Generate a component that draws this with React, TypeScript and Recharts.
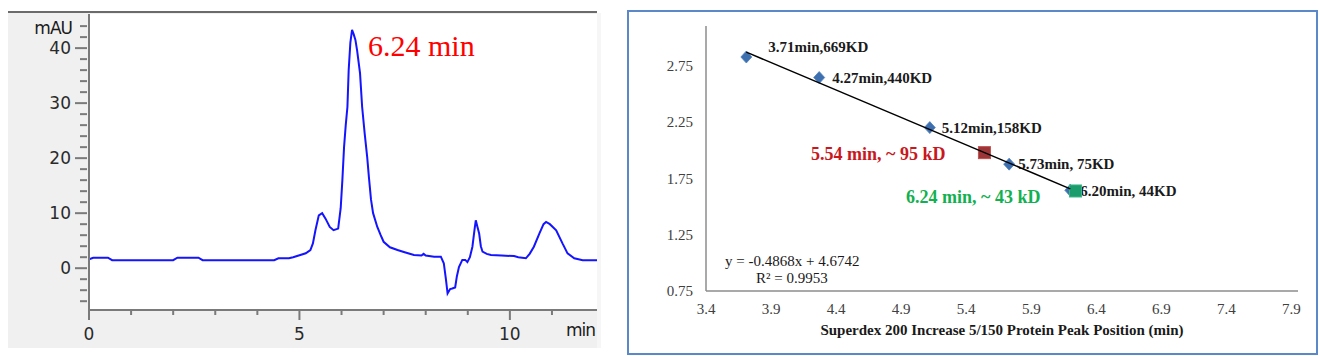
import { CartesianGrid, Label, Line, LineChart, Scatter, ScatterChart, XAxis, YAxis } from "recharts";

// left panel: chromatogram (time in min, absorbance in mAU)
const elutionTime = [
  0, 0.1, 0.45, 0.55, 2.0, 2.1, 2.6, 2.7, 4.4, 4.5, 4.75, 4.85, 5.02, 5.15, 5.26, 5.32, 5.38, 5.46,
  5.54, 5.62, 5.72, 5.81, 5.92, 5.98, 6.02, 6.06, 6.1, 6.14, 6.17, 6.21, 6.25, 6.29, 6.33, 6.37, 6.44,
  6.49, 6.55, 6.61, 6.65, 6.7, 6.75, 6.85, 6.93, 7.0, 7.15, 7.33, 7.5, 7.72, 7.9, 7.95, 8.0, 8.2, 8.36,
  8.43, 8.48, 8.52, 8.58, 8.63, 8.7, 8.74, 8.79, 8.87, 8.94, 8.99, 9.05, 9.11, 9.16, 9.19, 9.23, 9.27,
  9.31, 9.35, 9.45, 9.55, 9.8, 10.1, 10.2, 10.38, 10.47, 10.57, 10.7, 10.8, 10.86, 10.95, 11.1, 11.25,
  11.37, 11.53, 11.73, 12.07,
];
const absorbance = [
  1.6, 1.9, 1.9, 1.45, 1.45, 1.9, 1.9, 1.45, 1.45, 1.8, 1.8, 2.0, 2.4, 2.7, 3.3, 4.5, 6.9, 9.6,
  10.0, 9.0, 7.5, 6.9, 7.2, 10.9, 16, 22, 26, 29.3, 36, 41, 43.3, 42.5, 41.5, 39.6, 35.4,
  29.3, 24.5, 20.2, 16.6, 12.5, 10, 7.5, 6, 4.8, 3.8, 3.3, 2.9, 2.4, 2.3, 2.6, 2.3, 2.1, 2.1,
  0.9, -2, -4.6, -3.8, -3.7, -3.5, -1.5, 0.2, 1.5, 1.5, 1.1, 2, 3.9, 7, 8.7, 7.5, 6.3,
  4, 3.0, 2.6, 2.4, 2.3, 2.2, 2.0, 1.8, 2.6, 3.9, 6.3, 8.0, 8.4, 8.0, 6.9, 4.5,
  2.7, 1.8, 1.45, 1.45,
];
const chromTicksX = [0, 1, 2, 3, 4, 5, 6, 7, 8, 9, 10, 11];
const chromTicksY = [-6, -4, -2, 0, 2, 4, 6, 8, 10, 12, 14, 16, 18, 20, 22, 24, 26, 28, 30, 32, 34, 36, 38, 40, 42, 44];
const peakLabel = "6.24 min";

// right panel: calibration (peak position in min, log10 of MW)
const standardTime = [3.71, 4.27, 5.12, 5.73, 6.2];
const standardLogMw = [2.825, 2.643, 2.199, 1.875, 1.643];
const standardLabels = ["3.71min,669KD", "4.27min,440KD", "5.12min,158KD", "5.73min, 75KD", "6.20min, 44KD"];
const sampleTime = [5.54, 6.24];
const sampleLogMw = [1.977, 1.637];
const sampleLabels = ["5.54 min, ~ 95 kD", "6.24 min, ~ 43 kD"];
const trendTime = [3.71, 6.2];
const trendLogMw = [2.868, 1.656];
const calTicksX = [3.4, 3.9, 4.4, 4.9, 5.4, 5.9, 6.4, 6.9, 7.4, 7.9];
const calTicksY = [0.75, 1.25, 1.75, 2.25, 2.75];
const equationText = "y = -0.4868x + 4.6742";
const r2Text = "R² = 0.9953";
const xTitle = "Superdex 200 Increase 5/150  Protein Peak Position (min)";

const chromData = elutionTime.map((t, i) => ({ t, a: absorbance[i] }));
const standardData = standardTime.map((x, i) => ({ x, y: standardLogMw[i], label: standardLabels[i] }));
const sampleData = sampleTime.map((x, i) => ({ x, y: sampleLogMw[i], label: sampleLabels[i] }));
const trendData = trendTime.map((x, i) => ({ x, y: trendLogMw[i] }));

const standardLabelDx = [22, 13, 12, 9, 10];
const standardLabelDy = [-10, 0, 0, 0, 1];
const sampleLabelDx = [-39, -35];
const sampleLabelDy = [1, 6];
const sampleFill = ["#9c3538", "#1c9c6c"];
const sampleStroke = ["#c0504d", "#3bb587"];
const sampleText = ["#c8181e", "#12b050"];

const serif = "'Liberation Serif', 'Times New Roman', serif";
const sans = "'DejaVu Sans', Verdana, sans-serif";

const ChromYTick = ({ x, y, payload }: any) => {
  const major = payload.value % 10 === 0;
  return (
    <g>
      <line x1={x - (major ? 14 : 9)} x2={x - 2} y1={y} y2={y} stroke="#7a7a7a" strokeWidth={2} />
      {major && (
        <text x={x - 18} y={y} textAnchor="end" dominantBaseline="central" fontFamily={sans} fontSize={17} fill="#2a2a2a">
          {payload.value}
        </text>
      )}
    </g>
  );
};

const ChromXTick = ({ x, y, payload }: any) => {
  const major = payload.value % 5 === 0;
  return (
    <g>
      <line x1={x} x2={x} y1={y} y2={y + (major ? 10 : 5)} stroke="#7a7a7a" strokeWidth={2} />
      {major && (
        <text x={x} y={y + 24} textAnchor="middle" dominantBaseline="central" fontFamily={sans} fontSize={17} fill="#2a2a2a">
          {payload.value}
        </text>
      )}
    </g>
  );
};

const StandardMark = ({ cx, cy, payload }: any) => {
  const i = standardLabels.indexOf(payload.label);
  return (
    <g>
      <path d={`M${cx},${cy - 6}L${cx + 5.5},${cy}L${cx},${cy + 6}L${cx - 5.5},${cy}Z`} fill="#3e70b0" stroke="#4f81bd" strokeWidth={0.8} />
      <text
        x={cx + standardLabelDx[i]}
        y={cy + standardLabelDy[i]}
        dominantBaseline="central"
        fontFamily={serif}
        fontWeight="bold"
        fontSize={15}
        fill="#1a1a1a"
      >
        {payload.label}
      </text>
    </g>
  );
};

const SampleMark = ({ cx, cy, payload }: any) => {
  const i = sampleLabels.indexOf(payload.label);
  return (
    <g>
      <rect x={cx - 6} y={cy - 6} width={12} height={12} fill={sampleFill[i]} stroke={sampleStroke[i]} strokeWidth={1} />
      <text
        x={cx + sampleLabelDx[i]}
        y={cy + sampleLabelDy[i]}
        textAnchor="end"
        dominantBaseline="central"
        fontFamily={serif}
        fontWeight="bold"
        fontSize={18}
        fill={sampleText[i]}
      >
        {payload.label}
      </text>
    </g>
  );
};

export default function App() {
  return (
    <div style={{ position: "absolute", left: 0, top: 0, width: 1319, height: 356, background: "#fff", overflow: "hidden" }}>
      {/* left panel */}
      <div style={{ position: "absolute", left: 8, top: 13, width: 589, height: 335, background: "#f0f0f0" }} />
      <div style={{ position: "absolute", left: 597, top: 13, width: 4, height: 335, background: "#f6f6f6" }} />
      <div style={{ position: "absolute", left: 8, top: 11, width: 589, height: 2, background: "#6b6b6b" }} />
      <div style={{ position: "absolute", left: 8, top: 13 }}>
        <LineChart width={589} height={337} data={chromData} margin={{ top: 1, right: 0, bottom: 0, left: 0 }}>
          <CartesianGrid horizontal={false} vertical={false} fill="#ffffff" />
          <XAxis
            dataKey="t"
            type="number"
            domain={[0, 12.07]}
            ticks={chromTicksX}
            allowDataOverflow
            height={40}
            tickSize={0}
            tickMargin={0}
            tickLine={false}
            axisLine={{ stroke: "#7a7a7a", strokeWidth: 2 }}
            tick={<ChromXTick />}
            interval={0}
          />
          <YAxis
            type="number"
            domain={[-7.6, 46.2]}
            ticks={chromTicksY}
            allowDataOverflow
            width={81}
            tickSize={0}
            tickMargin={0}
            tickLine={false}
            axisLine={{ stroke: "#7a7a7a", strokeWidth: 2 }}
            tick={<ChromYTick />}
            interval={0}
          />
          <Line type="linear" dataKey="a" stroke="#1414ff" strokeWidth={2} dot={false} isAnimationActive={false} />
        </LineChart>
      </div>
      <div style={{ position: "absolute", left: 22, top: 18, width: 50, textAlign: "right", fontFamily: sans, fontSize: 17, lineHeight: "20px", color: "#1a1a1a", letterSpacing: -1 }}>
        mAU
      </div>
      <div style={{ position: "absolute", left: 12, top: 560, display: "none" }} />
      <div style={{ position: "absolute", left: 566, top: 320, fontFamily: sans, fontSize: 17, lineHeight: "20px", color: "#1a1a1a", letterSpacing: -1 }}>
        min
      </div>
      <div style={{ position: "absolute", left: 368, top: 29, fontFamily: serif, fontSize: 30, lineHeight: "34px", color: "#ff0000" }}>
        {peakLabel}
      </div>

      {/* right panel */}
      <div style={{ position: "absolute", left: 627, top: 10, width: 691, height: 345, border: "2px solid #5a88c8", boxSizing: "border-box" }} />
      <div style={{ position: "absolute", left: 627, top: 10 }}>
        <ScatterChart width={691} height={345} margin={{ top: 16, right: 20, bottom: 0, left: 0 }}>
          <XAxis
            dataKey="x"
            type="number"
            domain={[3.4, 7.95]}
            ticks={calTicksX}
            allowDataOverflow
            height={64}
            tickLine={false}
            tickSize={0}
            tickMargin={12}
            axisLine={{ stroke: "#8c8c8c", strokeWidth: 1.5 }}
            tick={{ fontFamily: serif, fontSize: 15, fill: "#404040" }}
            tickFormatter={(v: number) => v.toFixed(1)}
            interval={0}
          >
            <Label value={xTitle} position="insideBottom" offset={20} fontFamily={serif} fontWeight="bold" fontSize={15} fill="#1a1a1a" />
          </XAxis>
          <YAxis
            dataKey="y"
            type="number"
            domain={[0.75, 3.1]}
            ticks={calTicksY}
            allowDataOverflow
            width={79}
            tickLine={false}
            tickSize={0}
            tickMargin={13}
            axisLine={{ stroke: "#8c8c8c", strokeWidth: 1.5 }}
            tick={{ fontFamily: serif, fontSize: 15, fill: "#404040" }}
            tickFormatter={(v: number) => v.toFixed(2)}
            interval={0}
          />
          <Scatter data={standardData} shape={(p: any) => <StandardMark {...p} />} isAnimationActive={false} />
          <Scatter data={sampleData} shape={(p: any) => <SampleMark {...p} />} isAnimationActive={false} />
          <Scatter data={trendData} line={{ stroke: "#000000", strokeWidth: 1.5 }} shape={() => <g />} isAnimationActive={false} />
        </ScatterChart>
      </div>
      <div style={{ position: "absolute", left: 725, top: 253, fontFamily: serif, fontSize: 15, lineHeight: "17px", color: "#1a1a1a", whiteSpace: "pre" }}>
        {equationText}
      </div>
      <div style={{ position: "absolute", left: 756, top: 270, fontFamily: serif, fontSize: 15, lineHeight: "17px", color: "#1a1a1a", whiteSpace: "pre" }}>
        {r2Text}
      </div>
    </div>
  );
}
